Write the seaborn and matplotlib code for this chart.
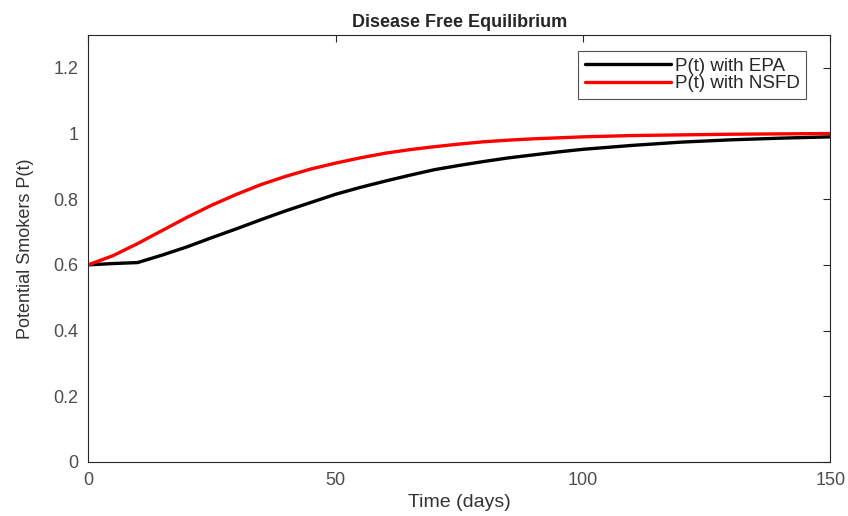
import matplotlib.pyplot as plt
import pandas as pd
import seaborn as sns

# values
time_days = [0, 5, 10, 15, 20, 25, 30, 35, 40, 45, 50, 55, 60, 65, 70, 75, 80, 85, 90,
             95, 100, 110, 120, 130, 140, 150]
p_epa = [0.600, 0.604, 0.607, 0.630, 0.655, 0.683, 0.710, 0.738, 0.765, 0.790,
         0.815, 0.836, 0.855, 0.873, 0.890, 0.903, 0.915, 0.926, 0.935, 0.944,
         0.952, 0.964, 0.974, 0.981, 0.986, 0.990]
p_nsfd = [0.600, 0.628, 0.665, 0.705, 0.745, 0.782, 0.815, 0.845, 0.870, 0.892,
          0.910, 0.926, 0.940, 0.951, 0.960, 0.968, 0.975, 0.980, 0.984, 0.987,
          0.990, 0.994, 0.996, 0.998, 0.999, 1.000]
series_names = ["P(t) with EPA", "P(t) with NSFD"]

df = pd.concat([
    pd.DataFrame({"time": time_days, "P": p_epa, "method": series_names[0]}),
    pd.DataFrame({"time": time_days, "P": p_nsfd, "method": series_names[1]}),
])

sns.set_style("white")
plt.rcParams["font.family"] = ["Liberation Sans", "DejaVu Sans"]

fig = plt.figure(figsize=(8.48, 5.16), dpi=100)
ax = fig.add_axes([0.104, 0.105, 0.875, 0.827])
sns.lineplot(data=df, x="time", y="P", hue="method",
             palette=["black", "red"], linewidth=2.4, ax=ax)

ax.set_xlim(0, 150)
ax.set_ylim(0, 1.3)
ax.set_xticks([0, 50, 100, 150])
ax.set_xticklabels(["0", "50", "100", "150"])
ax.set_yticks([0, 0.2, 0.4, 0.6, 0.8, 1.0, 1.2])
ax.set_yticklabels(["0", "0.2", "0.4", "0.6", "0.8", "1", "1.2"])
ax.tick_params(direction="in", top=True, right=True, length=5, labelsize=13,
               color="#262626", labelcolor="#4d4d4d", pad=7)
for sp in ax.spines.values():
    sp.set_color("#262626")
    sp.set_linewidth(0.8)

ax.set_title("Disease Free Equilibrium", fontsize=13, fontweight="bold", pad=6)
ax.set_xlabel("Time (days)", fontsize=14, color="#333333", labelpad=4)
ax.set_ylabel("Potential Smokers P(t)", fontsize=13, color="#333333",
              labelpad=14, fontstretch="condensed")

leg = ax.legend(loc="upper right", fontsize=13.5, frameon=True, fancybox=False,
                edgecolor="#262626", handlelength=4.6, handletextpad=0.2,
                borderaxespad=0.0, bbox_to_anchor=(0.968, 0.962),
                labelspacing=0.02, borderpad=0.35)
leg.get_frame().set_linewidth(0.8)

plt.savefig("out.png", dpi=100)
